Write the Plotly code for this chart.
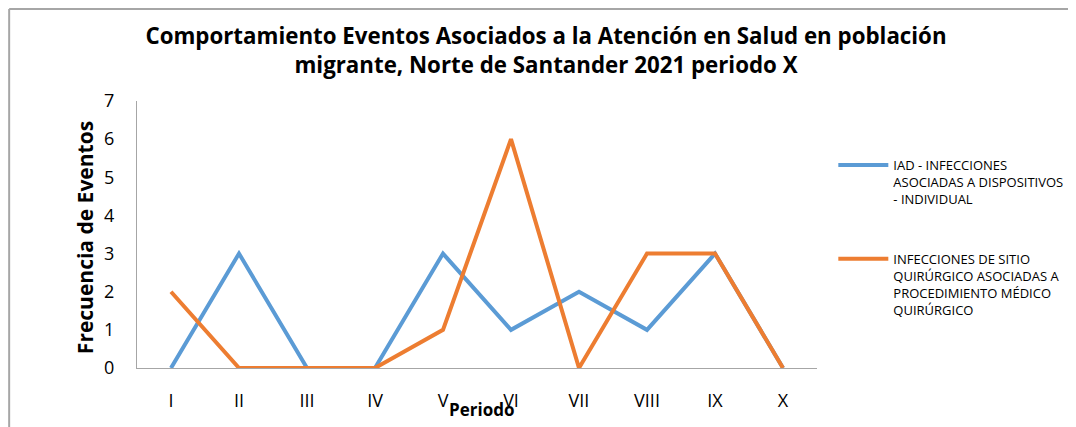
import plotly.graph_objects as go

periodos = ['I', 'II', 'III', 'IV', 'V', 'VI', 'VII', 'VIII', 'IX', 'X']
iad = [0, 3, 0, 0, 3, 1, 2, 1, 3, 0]
isq = [2, 0, 0, 0, 1, 6, 0, 3, 3, 0]

nombre_iad = 'IAD - INFECCIONES<br>ASOCIADAS A DISPOSITIVOS<br>- INDIVIDUAL'
nombre_isq = 'INFECCIONES DE SITIO<br>QUIRÚRGICO ASOCIADAS A<br>PROCEDIMIENTO MÉDICO<br>QUIRÚRGICO'

fuente = 'Open Sans'

fig = go.Figure()
fig.add_trace(go.Scatter(x=periodos, y=iad, mode='lines', name=nombre_iad,
                         line=dict(color='#5B9BD5', width=4), legendgroup='a'))
fig.add_trace(go.Scatter(x=periodos, y=isq, mode='lines', name=nombre_isq,
                         line=dict(color='#ED7D31', width=4), legendgroup='b'))

fig.update_layout(
    width=1076, height=427,
    margin=dict(l=129, r=267, t=93, b=67),
    paper_bgcolor='white', plot_bgcolor='white',
    font=dict(family=fuente, color='black'),
    title=dict(text='<b>Comportamiento Eventos Asociados a la Atención en Salud en población<br>migrante, Norte de Santander 2021 periodo X</b>',
               x=0.5, xanchor='center', y=0.915, yanchor='top',
               font=dict(size=22.3, family=fuente)),
    xaxis=dict(showline=True, linecolor='#A6A6A6', linewidth=1, showgrid=False,
               ticks='', tickfont=dict(size=18), range=[-0.5, 9.5],
               ticklabelstandoff=16),
    yaxis=dict(showline=True, linecolor='#A6A6A6', linewidth=1, showgrid=False,
               ticks='', tickfont=dict(size=18), range=[0, 7], dtick=1,
               zeroline=False, ticklabelstandoff=18),
    legend=dict(x=1.024, xanchor='left', y=0.816, yanchor='top',
                font=dict(size=13, family=fuente), valign='top',
                tracegroupgap=40, itemwidth=50),
    showlegend=True,
)
fig.add_annotation(text='<b>Periodo</b>', xref='paper', yref='paper', x=0.507, y=-0.157,
                   xanchor='center', yanchor='middle', showarrow=False, font=dict(size=17))
fig.add_annotation(text='<b>Frecuencia de Eventos</b>', xref='paper', yref='paper',
                   x=-0.0765, y=0.49, xanchor='center', yanchor='middle',
                   textangle=-90, showarrow=False, font=dict(size=21))
# marco del grafico (solo borde izquierdo y superior)
fig.add_shape(type='line', xref='paper', yref='paper', x0=-0.188, x1=-0.188, y0=1.3446, y1=-0.26,
              line=dict(color='#A6A6A6', width=2))
fig.add_shape(type='line', xref='paper', yref='paper', x0=-0.188, x1=1.4, y0=1.3446, y1=1.3446,
              line=dict(color='#A6A6A6', width=2))

fig.write_html('out.html')
